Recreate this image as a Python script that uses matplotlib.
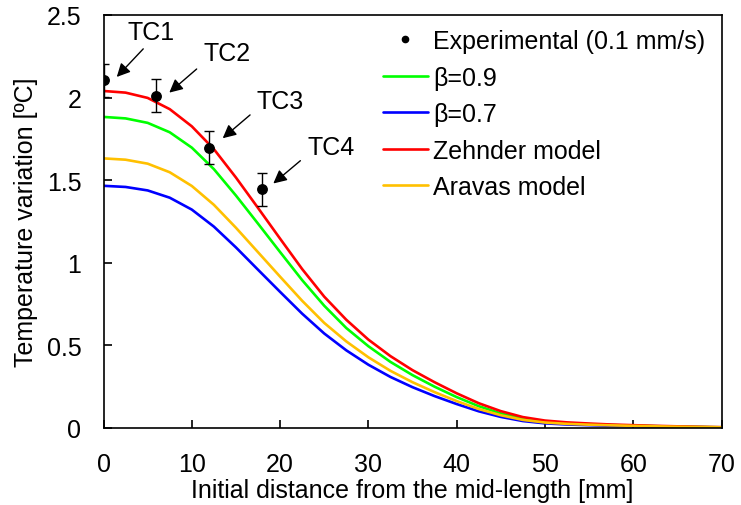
import matplotlib
matplotlib.use("Agg")
import matplotlib.pyplot as plt
from matplotlib.lines import Line2D

plt.rcParams['font.family'] = ['Liberation Sans', 'DejaVu Sans']

# ---- data ----
x_model = [0, 2.5, 5, 7.5, 10, 12.5, 15, 17.5, 20, 22.5, 25, 27.5, 30, 32.5,
           35, 37.5, 40, 42.5, 45, 47.5, 50, 52.5, 55, 57.5, 60, 62.5, 65, 67.5, 70]
beta09 = [1.883, 1.874, 1.847, 1.79, 1.697, 1.567, 1.407, 1.237, 1.065, 0.895, 0.74, 0.605,
          0.495, 0.40, 0.32, 0.25, 0.187, 0.132, 0.088, 0.057, 0.039, 0.029, 0.023, 0.018,
          0.014, 0.011, 0.008, 0.006, 0.004]
beta07 = [1.466, 1.459, 1.438, 1.394, 1.322, 1.219, 1.093, 0.958, 0.824, 0.692, 0.572, 0.470,
          0.383, 0.309, 0.247, 0.193, 0.145, 0.101, 0.067, 0.042, 0.028, 0.021, 0.017, 0.013,
          0.011, 0.008, 0.006, 0.005, 0.003]
zehnder = [2.04, 2.03, 1.998, 1.93, 1.826, 1.688, 1.516, 1.332, 1.146, 0.962, 0.795, 0.655,
           0.535, 0.435, 0.35, 0.277, 0.21, 0.15, 0.102, 0.066, 0.045, 0.034, 0.027, 0.021,
           0.017, 0.013, 0.01, 0.007, 0.005]
aravas = [1.632, 1.624, 1.6, 1.548, 1.465, 1.351, 1.212, 1.064, 0.916, 0.77, 0.636, 0.524,
          0.428, 0.346, 0.277, 0.217, 0.163, 0.115, 0.077, 0.049, 0.033, 0.025, 0.02, 0.016,
          0.013, 0.01, 0.008, 0.006, 0.004]

x_exp = [0, 6, 12, 18]
y_exp = [2.105, 2.01, 1.697, 1.444]
err_exp = [0.1, 0.1, 0.1, 0.1]
tc_labels = ['TC1', 'TC2', 'TC3', 'TC4']

# annotation layout (text position, arrow tail, arrow tip) in data units
tc_text_pos = [(5.4, 2.40), (13.95, 2.27), (19.99, 1.98), (25.75, 1.70)]
tc_arrow_tail = [(4.5, 2.295), (10.55, 2.173), (16.6, 1.895), (22.3, 1.618)]
tc_arrow_tip = [(1.5, 2.125), (7.45, 2.03), (13.5, 1.754), (19.23, 1.48)]

fig = plt.figure(figsize=(7.41, 5.06), dpi=100)
ax = fig.add_axes([0.1397, 0.1522, 0.834, 0.8162])

lw = 1.9
style = dict(lw=lw, zorder=2, solid_joinstyle='round', solid_capstyle='round')
ax.plot(x_model, beta09, color='#00FF00', label='β=0.9', **style)
ax.plot(x_model, beta07, color='#0000FF', label='β=0.7', **style)
ax.plot(x_model, zehnder, color='#FF0000', label='Zehnder model', **style)
ax.plot(x_model, aravas, color='#FFC000', label='Aravas model', **style)
ax.errorbar(x_exp, y_exp, yerr=err_exp, fmt='o', color='black', ms=6.8,
            ecolor='black', elinewidth=1.0, capsize=3.5, capthick=1.0,
            label='Experimental (0.1 mm/s)', zorder=5)

for lab, tp, tail, tip in zip(tc_labels, tc_text_pos, tc_arrow_tail, tc_arrow_tip):
    ax.text(tp[0], tp[1], lab, fontsize=18, ha='center', va='center')
    ax.annotate('', xy=tip, xytext=tail,
                arrowprops=dict(arrowstyle='-|>', color='black', lw=1.0,
                                mutation_scale=20, shrinkA=0, shrinkB=0))

ax.set_xlim(0, 70)
ax.set_ylim(0, 2.5)
ax.set_xticks([0, 10, 20, 30, 40, 50, 60, 70])
ax.set_yticks([0, 0.5, 1, 1.5, 2, 2.5])
ax.set_yticklabels(['0', '0.5', '1', '1.5', '2', '2.5'])
ax.tick_params(axis='both', direction='in', length=6, width=1.2, labelsize=18)
ax.tick_params(axis='x', pad=17)
ax.tick_params(axis='y', pad=16)
for s in ax.spines.values():
    s.set_linewidth(1.2)

ax.set_xlabel('Initial distance from the mid-length [mm]', fontsize=18, labelpad=2)
ax.set_ylabel('Temperature variation [ºC]', fontsize=18, labelpad=6)

handles, labels = ax.get_legend_handles_labels()
order = [labels.index('β=0.9'), labels.index('β=0.7'),
         labels.index('Zehnder model'), labels.index('Aravas model')]
exp_handle = Line2D([], [], marker='o', color='black', ls='none', ms=4.5)
hs = [exp_handle] + [handles[i] for i in order]
ls = ['Experimental (0.1 mm/s)'] + [labels[i] for i in order]
ax.legend(hs, ls, loc='upper left', bbox_to_anchor=(0.452, 0.966), frameon=False,
          fontsize=18, handlelength=1.8, handletextpad=0.2, labelspacing=0.5,
          borderpad=0, borderaxespad=0)

fig.savefig('out.png', dpi=100)
